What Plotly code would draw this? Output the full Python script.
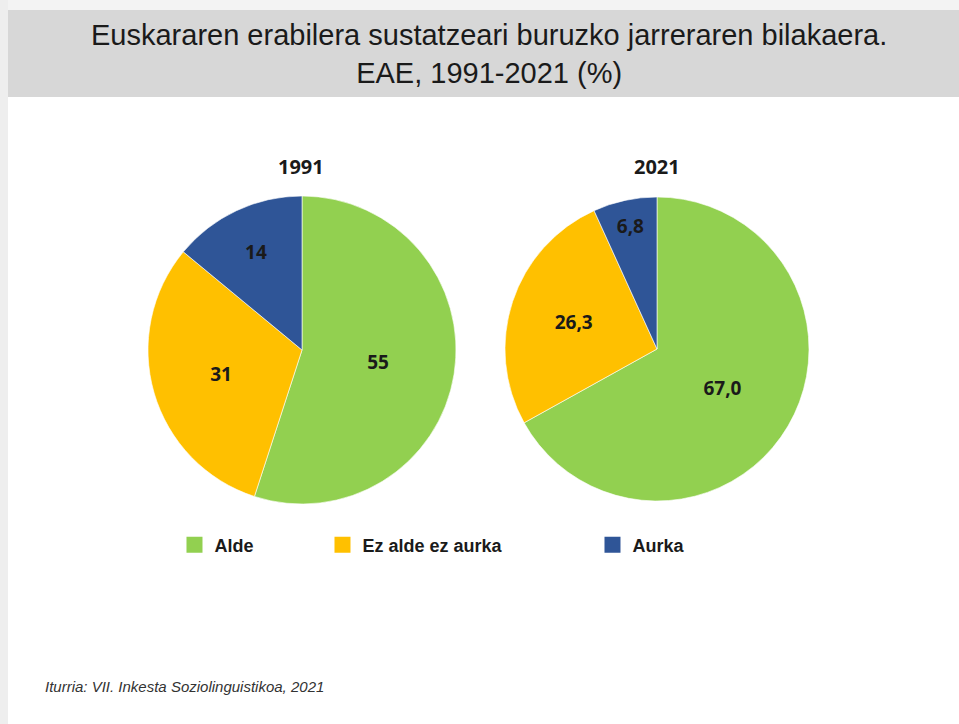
import plotly.graph_objects as go

categories = ["Alde", "Ez alde ez aurka", "Aurka"]
values_1991 = [55, 31, 14]
values_2021 = [67.0, 26.3, 6.8]
labels_1991 = ["55", "31", "14"]
labels_2021 = ["67,0", "26,3", "6,8"]
years = ["1991", "2021"]
colors = ["#92d050", "#ffc000", "#2f5597"]

W, H = 959, 724

def px_x(x):
    return x / W

def px_y(y):
    return 1 - y / H

fig = go.Figure()

pie_common = dict(
    labels=categories,
    sort=False,
    direction="clockwise",
    rotation=0,
    textinfo="text",
    textposition="inside",
    insidetextorientation="horizontal",
    marker=dict(colors=colors, line=dict(color="rgba(255,255,255,0.6)", width=1)),
    insidetextfont=dict(family="Open Sans, Lato, sans-serif", size=19, color="#1a1a1a", weight="bold"),
    showlegend=False,
    hoverinfo="label+value",
)

fig.add_trace(go.Pie(values=values_1991, text=labels_1991,
                     domain=dict(x=[px_x(148), px_x(456)], y=[px_y(504), px_y(196)]),
                     **pie_common))
fig.add_trace(go.Pie(values=values_2021, text=labels_2021,
                     domain=dict(x=[px_x(505), px_x(809)], y=[px_y(501), px_y(197)]),
                     **pie_common))

# Legend via dummy traces, each in own legend for exact placement
legend_x = [186, 334, 604]
legend_names = ["legend", "legend2", "legend3"]
for i, (cat, col) in enumerate(zip(categories, colors)):
    fig.add_trace(go.Scatter(x=[None], y=[None], mode="markers", name=cat,
                             marker=dict(symbol="square", size=16, color=col),
                             legend=legend_names[i], showlegend=True))

leg_font = dict(family="Liberation Sans, Arial, sans-serif", size=18, color="#1a1a1a", weight="bold")
layout_legends = {}
for i, ln in enumerate(legend_names):
    layout_legends[ln] = dict(x=px_x(legend_x[i]) - 0.012, y=px_y(545), xanchor="left", yanchor="middle",
                              orientation="h", font=leg_font, bgcolor="rgba(0,0,0,0)",
                              itemsizing="trace", itemclick=False, itemdoubleclick=False)

fig.update_layout(
    width=W, height=H,
    margin=dict(l=0, r=0, t=0, b=0),
    paper_bgcolor="white",
    plot_bgcolor="white",
    xaxis=dict(visible=False, domain=[0, 0.001]),
    yaxis=dict(visible=False, domain=[0, 0.001]),
    **layout_legends,
    shapes=[
        dict(type="rect", xref="paper", yref="paper", x0=0, x1=1, y0=px_y(10), y1=1,
             fillcolor="#f3f3f3", line=dict(width=0), layer="below"),
        dict(type="rect", xref="paper", yref="paper", x0=0, x1=px_x(8), y0=0, y1=1,
             fillcolor="#eeeeee", line=dict(width=0), layer="below"),
        dict(type="rect", xref="paper", yref="paper", x0=px_x(8), x1=1, y0=px_y(97), y1=px_y(10),
             fillcolor="#d7d7d7", line=dict(width=0), layer="below"),
    ],
    annotations=[
        dict(text="Euskararen erabilera sustatzeari buruzko jarreraren bilakaera.<br>EAE, 1991-2021 (%)",
             x=px_x(489), y=px_y(54), xref="paper", yref="paper", showarrow=False,
             xanchor="center", yanchor="middle",
             font=dict(family="Liberation Sans, Arial, sans-serif", size=29, color="#1a1a1a")),
        dict(text="<b>" + years[0] + "</b>", x=px_x(301), y=px_y(166), xref="paper", yref="paper",
             showarrow=False, xanchor="center", yanchor="middle",
             font=dict(family="Open Sans, Lato, sans-serif", size=20, color="#1a1a1a")),
        dict(text="<b>" + years[1] + "</b>", x=px_x(657), y=px_y(166), xref="paper", yref="paper",
             showarrow=False, xanchor="center", yanchor="middle",
             font=dict(family="Open Sans, Lato, sans-serif", size=20, color="#1a1a1a")),
        dict(text="<i>Iturria: VII. Inkesta Soziolinguistikoa, 2021</i>", x=px_x(43), y=px_y(686),
             xref="paper", yref="paper", showarrow=False, xanchor="left", yanchor="middle",
             font=dict(family="Liberation Sans, Arial, sans-serif", size=15, color="#333333")),
    ],
)

fig.write_html("out.html", config={"displayModeBar": False},
               post_script="document.body.style.margin='0px';")
